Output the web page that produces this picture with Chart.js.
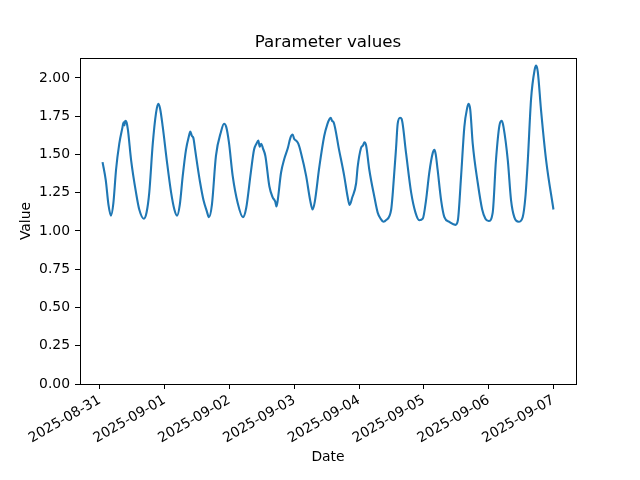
<!DOCTYPE html>
<html>
<head>
<meta charset="utf-8">
<script src="https://cdn.jsdelivr.net/npm/chart.js@4/dist/chart.umd.min.js"></script>
<style>
  html, body { margin: 0; padding: 0; background: #fff; }
  #wrap { width: 640px; height: 480px; }
</style>
</head>
<body>
<div id="wrap"><canvas id="chart" width="640" height="480"></canvas></div>
<script>
// hours since 2025-08-31 00:00
var hours = [
  1, 2.2, 3.2, 4.1, 5.0, 6.0, 7.2, 8.3, 8.8, 9.1, 9.4, 9.9, 10.4, 11.6, 13.4, 14.6, 16.3, 17.3, 18.3, 19.6, 20.8, 21.6, 22.3, 23.3,
  24.8, 26.4, 27.6, 28.6, 29.6, 30.7, 31.9, 33.0, 33.5, 34.1, 34.6, 35.3, 36.2, 37.1, 38.4, 39.6, 40.4, 41.5, 43.0, 44.9, 46.0, 46.8, 47.8,
  49.2, 51.1, 53.0, 54.2, 55.9, 57.1, 58.0, 58.7, 59.2, 59.8, 60.4, 61.3, 62.8, 64.0, 65.0, 65.4, 65.8, 67.1, 68.3, 69.6, 70.6, 71.4,
  72.0, 72.7, 73.5, 74.5, 76.4, 77.9, 78.8, 79.6, 81.3, 83.1, 84.3, 85.0, 85.5, 86.0, 86.6, 88.6, 90.5, 91.8, 92.5, 93.5, 94.9, 95.5,
  96.7, 97.5, 98.0, 98.6, 99.8, 101.7, 102.9, 104.0, 105.0, 106.0, 107.9, 108.5, 109.7, 110.3, 111.2, 111.8, 113.4, 115.3, 116.9, 118.3, 119.6,
  120.8, 122.0, 123.3, 123.9, 124.4, 125.1, 126.4, 127.6, 129.4, 131.7, 132.6, 133.8, 135.0, 136.0, 136.6, 137.2, 138.1, 140.0, 141.6, 142.8, 144.0,
  145.5, 146.7, 148.0, 148.9, 149.5, 151.1, 152.3, 153.5, 155.1, 156.6, 157.6, 158.5, 159.7, 161.0, 161.6, 162.2, 163.4, 165.3, 168.0
];
var values = [
  1.45, 1.33, 1.17, 1.10, 1.18, 1.40, 1.57, 1.67, 1.71, 1.69, 1.72, 1.71, 1.66, 1.46, 1.25, 1.14, 1.08, 1.12, 1.25, 1.57, 1.77, 1.83, 1.80, 1.68,
  1.46, 1.25, 1.14, 1.10, 1.17, 1.36, 1.53, 1.62, 1.65, 1.62, 1.61, 1.53, 1.42, 1.32, 1.20, 1.13, 1.09, 1.17, 1.49, 1.65, 1.70, 1.68, 1.58,
  1.36, 1.18, 1.09, 1.15, 1.38, 1.53, 1.57, 1.59, 1.55, 1.57, 1.54, 1.49, 1.29, 1.22, 1.19, 1.16, 1.19, 1.38, 1.47, 1.54, 1.61, 1.63,
  1.60, 1.59, 1.57, 1.51, 1.36, 1.20, 1.14, 1.19, 1.42, 1.62, 1.70, 1.73, 1.74, 1.72, 1.71, 1.53, 1.36, 1.22, 1.17, 1.22, 1.31, 1.42,
  1.54, 1.56, 1.58, 1.56, 1.40, 1.22, 1.12, 1.08, 1.06, 1.07, 1.14, 1.25, 1.54, 1.70, 1.74, 1.73, 1.51, 1.25, 1.12, 1.07, 1.08,
  1.20, 1.38, 1.51, 1.53, 1.50, 1.40, 1.20, 1.09, 1.06, 1.04, 1.07, 1.36, 1.68, 1.80, 1.83, 1.79, 1.57, 1.31, 1.14, 1.08, 1.065,
  1.12, 1.46, 1.69, 1.72, 1.68, 1.46, 1.20, 1.09, 1.06, 1.09, 1.22, 1.46, 1.86, 2.05, 2.08, 2.04, 1.79, 1.46, 1.14
];
var dayTicks = [0, 24, 48, 72, 96, 120, 144, 168];
var yTicks = [0, 0.25, 0.5, 0.75, 1.0, 1.25, 1.5, 1.75, 2.0];
var titleText = 'Parameter values';

var FONT = 'DejaVu Sans, sans-serif';
Chart.defaults.color = '#000';
Chart.defaults.font.family = FONT;
Chart.defaults.font.size = 13.9;

function dayLabel(h) {
  var d = new Date(Date.UTC(2025, 7, 31 + Math.round(h / 24)));
  return d.toISOString().slice(0, 10);
}

// frame + title centred over the axes, like matplotlib
var framePlugin = {
  id: 'frame',
  afterDraw: function (chart) {
    var a = chart.chartArea, ctx = chart.ctx;
    ctx.save();
    ctx.strokeStyle = '#000';
    ctx.lineWidth = 1;
    ctx.strokeRect(Math.round(a.left) + 0.5, Math.round(a.top) + 0.5,
      Math.round(a.right - a.left), Math.round(a.bottom - a.top));
    ctx.fillStyle = '#000';
    ctx.font = '16.7px ' + FONT;
    ctx.textAlign = 'center';
    ctx.textBaseline = 'middle';
    ctx.fillText(titleText, (a.left + a.right) / 2, 43);
    ctx.restore();
  }
};

var pts = hours.map(function (h, i) { return {x: h, y: values[i]}; });

new Chart(document.getElementById('chart').getContext('2d'), {
  type: 'line',
  data: {
    datasets: [{
      data: pts,
      borderColor: '#1f77b4',
      borderWidth: 2.1,
      pointRadius: 0,
      cubicInterpolationMode: 'monotone',
      fill: false
    }]
  },
  options: {
    responsive: false,
    animation: false,
    devicePixelRatio: 1,
    layout: { padding: { top: 58, right: 64, left: 0, bottom: 0 } },
    plugins: { legend: { display: false }, tooltip: { enabled: false }, title: { display: false } },
    scales: {
      x: {
        type: 'linear',
        min: -7.35,
        max: 176.35,
        afterBuildTicks: function (s) { s.ticks = dayTicks.map(function (v) { return {value: v}; }); },
        afterFit: function (s) { s.height = 96; },
        grid: { drawOnChartArea: false, drawTicks: true, tickLength: 5, color: '#000', lineWidth: 1 },
        border: { color: '#000', width: 1 },
        ticks: {
          autoSkip: false, minRotation: 30, maxRotation: 30, padding: 3,
          callback: function (v) { return dayLabel(v); }
        },
        title: { display: true, text: 'Date', padding: { top: 0, bottom: 14 } }
      },
      y: {
        min: 0,
        max: 2.13,
        afterBuildTicks: function (s) { s.ticks = yTicks.map(function (v) { return {value: v}; }); },
        afterFit: function (s) { s.width = 80; },
        grid: { drawOnChartArea: false, drawTicks: true, tickLength: 5, color: '#000', lineWidth: 1 },
        border: { color: '#000', width: 1 },
        ticks: { padding: 5, callback: function (v) { return v.toFixed(2); } },
        title: { display: true, text: 'Value', padding: { top: 18, bottom: 0 } }
      }
    }
  },
  plugins: [framePlugin]
});
</script>
</body>
</html>
